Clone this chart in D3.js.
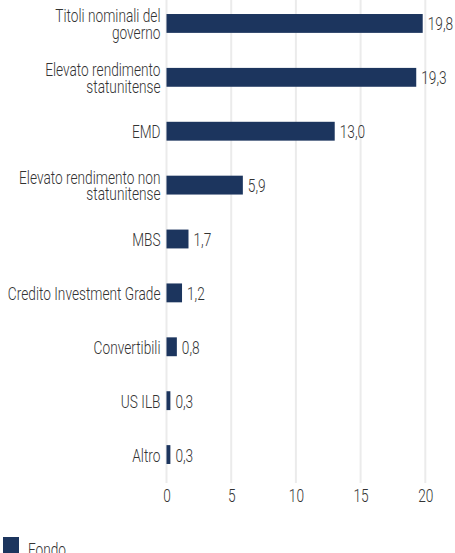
<!DOCTYPE html>
<html>
<head>
<meta charset="utf-8">
<script src="https://cdn.jsdelivr.net/npm/d3@7"></script>
<style>
  html, body { margin: 0; padding: 0; background: #fff; overflow: hidden; }
  svg text { font-family: Roboto, "Noto Sans", sans-serif; font-weight: 300; fill: #333; }
</style>
</head>
<body>
<svg id="chart"></svg>
<script>
// categorie (a capo dove il grafico originale va a capo)
const categories = [
  "Titoli nominali del\ngoverno",
  "Elevato rendimento\nstatunitense",
  "EMD",
  "Elevato rendimento non\nstatunitense",
  "MBS",
  "Credito Investment Grade",
  "Convertibili",
  "US ILB",
  "Altro"
];
const fondo = [19.8, 19.3, 13.0, 5.9, 1.7, 1.2, 0.8, 0.3, 0.3];
const xTicks = [0, 5, 10, 15, 20];
const seriesName = "Fondo";

const width = 455, height = 553;
const color = "#1c355e";
const fontSize = 18.5;
const narrow = 0.74; // Roboto schiacciato per imitare il font condensato
const fmt = v => v.toFixed(1).replace(".", ",");

const svg = d3.select("#chart").attr("width", width).attr("height", height);

const data = categories.map((c, i) => ({ cat: c, value: fondo[i] }));

const x = d3.scaleLinear().domain([0, 20]).range([166.5, 425.3]);
const y = d3.scaleBand()
  .domain(categories)
  .range([-3.5, 481.5])
  .paddingInner(0.65)
  .paddingOuter(0.325);

// griglia verticale
svg.append("g")
  .selectAll("line")
  .data(xTicks)
  .join("line")
  .attr("x1", d => x(d)).attr("x2", d => x(d))
  .attr("y1", 0).attr("y2", 483)
  .attr("stroke", "#ebebeb")
  .attr("stroke-width", 2);

// asse x
const xAxis = svg.append("g")
  .attr("transform", "translate(0,483)")
  .attr("font-family", null)
  .attr("font-size", null)
  .call(d3.axisBottom(x).tickValues(xTicks).tickSize(0).tickPadding(6));
xAxis.select(".domain").remove();
xAxis.selectAll("text")
  .attr("font-size", fontSize)
  .attr("transform", `scale(${narrow},1)`);

// barre
svg.append("g")
  .selectAll("rect")
  .data(data)
  .join("rect")
  .attr("x", x(0))
  .attr("y", d => y(d.cat))
  .attr("width", d => x(d.value) - x(0))
  .attr("height", y.bandwidth())
  .attr("fill", color);

// valori
svg.append("g")
  .selectAll("text")
  .data(data)
  .join("text")
  .attr("transform", d => `translate(${x(d.value) + 5},${y(d.cat) + y.bandwidth() / 2 + 7}) scale(${narrow},1)`)
  .attr("font-size", fontSize)
  .text(d => fmt(d.value));

// etichette categorie
const lineH = 16.5;
svg.append("g")
  .selectAll("text")
  .data(data)
  .join("text")
  .attr("text-anchor", "end")
  .attr("font-size", fontSize)
  .each(function(d) {
    const lines = d.cat.split("\n");
    const cy = y(d.cat) + y.bandwidth() / 2 + 7 - (lines.length - 1) * lineH / 2;
    d3.select(this)
      .attr("transform", `translate(160.5,${cy}) scale(${narrow},1)`)
      .selectAll("tspan")
      .data(lines)
      .join("tspan")
      .attr("x", 0)
      .attr("y", (l, i) => i * lineH)
      .text(l => l);
  });

// legenda
const legend = svg.append("g").attr("transform", "translate(3,537)");
legend.append("rect").attr("width", 16).attr("height", 16).attr("fill", color);
legend.append("text")
  .attr("transform", `translate(25,19) scale(${narrow},1)`)
  .attr("font-size", fontSize)
  .text(seriesName);
</script>
</body>
</html>
